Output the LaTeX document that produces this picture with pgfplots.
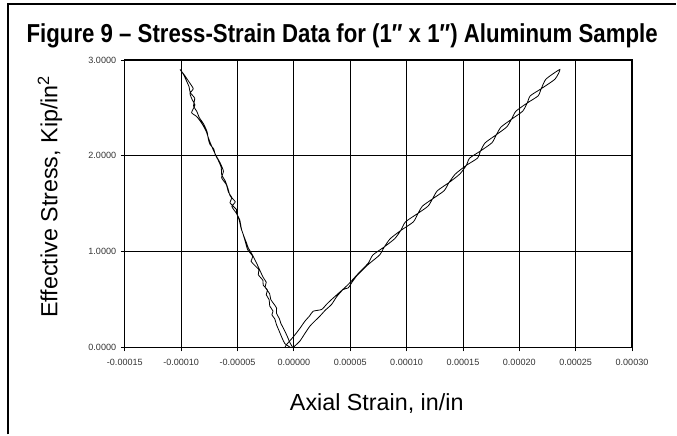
\documentclass[border=0pt]{standalone}
\usepackage{pgfplots}
\pgfplotsset{compat=1.18}
\usepackage{graphicx}
\usepackage{fontspec}
\setmainfont{Liberation Sans}
\begin{document}
\begin{tikzpicture}
\path (0,0) rectangle (507.75pt,326.25pt);
\draw[line width=1.6pt] (6pt,0) -- (6pt,323.25pt) -- (507.75pt,323.25pt);
\node[font=\bfseries\fontsize{19.5}{21}\selectfont, anchor=center] at (257pt,299pt) {\resizebox{474pt}{\height}{Figure 9 – Stress-Strain Data for (1″ x 1″) Aluminum Sample}};
\begin{axis}[
  at={(93.75pt,65.25pt)}, anchor=south west,
  scale only axis, width=381pt, height=216pt,
  xmin=-0.00015, xmax=0.0003, ymin=0, ymax=3,
  xtick={-0.00015,-0.0001,-0.00005,0,0.00005,0.0001,0.00015,0.0002,0.00025,0.0003},
  ytick={0,1,2,3},
  scaled x ticks=false, scaled y ticks=false,
  xticklabel style={/pgf/number format/fixed, /pgf/number format/fixed zerofill, /pgf/number format/precision=5, /pgf/number format/assume math mode=true, yshift=-2pt},
  yticklabel style={/pgf/number format/fixed, /pgf/number format/fixed zerofill, /pgf/number format/precision=4, /pgf/number format/assume math mode=true},
  tick label style={font=\fontsize{6.8}{8}\selectfont, text=black!80},
  grid=major, major grid style={black, line width=0.6pt},
  tick align=outside, major tick length=3pt,
  tick style={black, line width=0.6pt},
  axis line style={black, line width=0.9pt},
  xtick pos=bottom, ytick pos=left,
  clip=false,
]
% left gauge: loading then unloading (x in 1e-6)
\addplot[black, line width=0.6pt, smooth, tension=0.35, x filter/.expression={x*1e-6}] coordinates {
(-3,0.00) (-8,0.04) (-10.5,0.10) (-13,0.17) (-15.5,0.24) (-17,0.30) (-19.5,0.34) (-18.5,0.38)
(-21.3,0.43) (-22,0.50) (-24.5,0.55) (-23.5,0.60) (-27.2,0.65) (-27.5,0.70) (-31.6,0.76) (-31,0.81)
(-35,0.86) (-38,0.90) (-36.5,0.95) (-41,1.02) (-43,1.10)
(-45,1.18) (-47,1.25) (-48.5,1.33) (-51,1.40) (-55,1.47) (-52,1.52) (-56.5,1.58) (-58.5,1.66)
(-61,1.74) (-64,1.80) (-64.5,1.88) (-67,1.95) (-70,2.02) (-71,2.07) (-74.5,2.12) (-76,2.18) (-77,2.25)
(-80,2.33) (-84,2.40) (-86,2.46) (-89,2.52) (-88,2.60) (-92,2.66) (-93,2.72) (-96,2.80)
(-98,2.85) (-101,2.90)
(-97,2.84) (-93,2.77) (-89.3,2.70) (-92.2,2.65) (-90,2.58) (-87.8,2.53) (-90.7,2.45) (-86.3,2.41)
(-81.8,2.34) (-78,2.26) (-75,2.16) (-71.5,2.06) (-68.5,1.99) (-65.6,1.93) (-62.5,1.84) (-64.1,1.77)
(-60,1.70) (-58,1.62) (-55,1.56) (-56.7,1.51) (-51,1.44) (-50.8,1.40) (-48,1.33) (-46.4,1.23)
(-44,1.15) (-42,1.09) (-40.5,1.04) (-37,0.97) (-33.1,0.88) (-30,0.80) (-27.2,0.73) (-24.5,0.68)
(-25.5,0.63) (-21.5,0.56) (-20.5,0.50) (-17.5,0.45) (-15.3,0.41) (-15.5,0.36) (-12.9,0.30)
(-11.5,0.25) (-9.5,0.205) (-6,0.12) (-3.5,0.05) (-1,0.00)
};
% right gauge: loading then unloading (x in 1e-6)
\addplot[black, line width=0.6pt, smooth, tension=0.35, x filter/.expression={x*1e-6}] coordinates {
(-8,0.00) (-6.5,0.03) (-2,0.09) (2.4,0.153) (6,0.21) (9.8,0.274) (14,0.33) (17.1,0.378)
(24.6,0.396) (29,0.45) (33.4,0.50) (41,0.58) (48.1,0.656) (57,0.77) (66,0.88)
(70.1,0.965) (80.3,1.05) (89.5,1.135) (94.8,1.22) (99.0,1.31) (110.2,1.40) (119.1,1.475)
(123.0,1.55) (127.3,1.635) (137.6,1.72) (147.3,1.81) (153.0,1.90) (155.9,1.975) (165.6,2.05)
(175.7,2.135) (179.7,2.22) (183.8,2.30) (193.0,2.38) (203.0,2.465) (207.0,2.55) (209.7,2.625)
(219.5,2.70) (231.7,2.80) (236.0,2.90)
(223.7,2.80) (219.5,2.70) (216.7,2.625) (207.0,2.55) (197.0,2.465) (193.0,2.38) (188.8,2.30)
(179.7,2.22) (169.7,2.135) (165.6,2.05) (162.9,1.975) (153.0,1.90) (143.3,1.81) (137.6,1.72)
(133.3,1.635) (123.0,1.55) (114.1,1.475) (110.2,1.40) (106.0,1.31) (94.8,1.22) (85.5,1.135)
(80.3,1.05) (76.1,0.965) (65.9,0.865) (56,0.75) (51.2,0.674) (48.3,0.622) (43.7,0.604)
(38,0.53) (33.4,0.448) (28,0.39) (23,0.326) (19,0.28) (14.2,0.222) (10,0.15) (5.3,0.066) (-0.6,0.00)
};
\end{axis}
\node[font=\fontsize{17.5}{19}\selectfont, rotate=90] at (37.5pt,178.5pt) {Effective Stress, Kip/in\textsuperscript{2}};
\node[font=\fontsize{17.5}{19}\selectfont] at (283pt,23pt) {Axial Strain, in/in};
\end{tikzpicture}
\end{document}
